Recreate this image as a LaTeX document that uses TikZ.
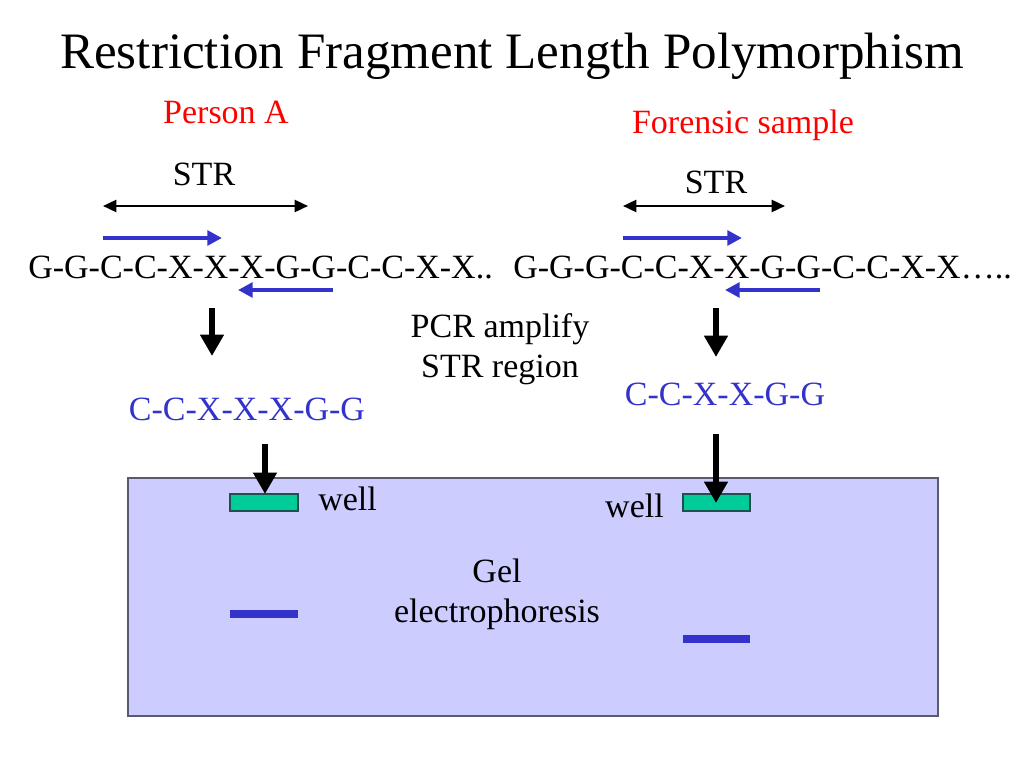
\documentclass[tikz,border=0pt]{standalone}
\usepackage{fontspec}
\setmainfont{Liberation Serif}
\usetikzlibrary{arrows.meta}

\definecolor{dnablue}{RGB}{51,51,204}
\definecolor{gelfill}{RGB}{204,204,255}
\definecolor{wellfill}{RGB}{0,204,153}

\tikzset{
  txt/.style={inner sep=0pt, anchor=base, font=\fontsize{25.5}{29.3}\selectfont},
  spanarrow/.style={line width=1.8, {Triangle[width=9,length=10]}-{Triangle[width=9,length=10]}},
  primer/.style={draw=dnablue, line width=3, -{Triangle[width=11,length=11]}},
  downarrow/.style={line width=4.5, -{Triangle[width=17,length=16]}},
  wellbox/.style={draw={rgb,255:red,30;green,80;blue,80}, fill=wellfill, line width=0.8},
}

\begin{document}
\begin{tikzpicture}[x=0.75pt,y=0.75pt,yscale=-1,xscale=1]
  \useasboundingbox (0,0) rectangle (1024,768);
  \fill[white] (0,0) rectangle (1024,768);

  %Shape: Rectangle (gel)
  \draw [draw={rgb,255:red,90;green,90;blue,110}, fill=gelfill, line width=1] (128,478) rectangle (938,716);
  %Shape: Wells
  \draw [wellbox] (230,494) rectangle (298,511);
  \draw [wellbox] (683,494) rectangle (750,511);
  %Shape: Bands
  \fill [dnablue] (230,610) rectangle (298,618);
  \fill [dnablue] (683,635) rectangle (750,643);

  % Text Node
  \draw (512,68) node (title) [txt, font=\fontsize{38.3}{44}\selectfont] {Restriction Fragment Length Polymorphism};
  % Text Node
  \draw (226,123) node (persA) [txt, text=red] {Person A};
  % Text Node
  \draw (743,133) node (foren) [txt, text=red] {Forensic sample};
  % Text Node
  \draw (204,185) node (strA) [txt] {STR};
  % Text Node
  \draw (716,193) node (strB) [txt] {STR};
  % Text Node
  \draw (28,278) node (seqA) [txt, anchor=base west] {G-G-C-C-X-X-X-G-G-C-C-X-X..};
  % Text Node
  \draw (513,278) node (seqB) [txt, anchor=base west] {G-G-G-C-C-X-X-G-G-C-C-X-X\ldots..};
  % Text Node (anchored on its last line)
  \draw (500,377) node (pcr) [txt, align=center] {PCR amplify\\STR region};
  % Text Node
  \draw (247,420) node (fragA) [txt, text=dnablue] {C-C-X-X-X-G-G};
  % Text Node
  \draw (725,405) node (fragB) [txt, text=dnablue] {C-C-X-X-G-G};
  % Text Node
  \draw (318,510) node (wellA) [txt, anchor=base west] {well};
  % Text Node
  \draw (664,517) node (wellB) [txt, anchor=base east] {well};
  % Text Node (anchored on its last line)
  \draw (497,622) node (gel) [txt, align=center] {Gel\\electrophoresis};

  %Coordinates for arrow ends
  \coordinate (spanA1) at (103,206);  \coordinate (spanA2) at (308,206);
  \coordinate (spanB1) at (623,206);  \coordinate (spanB2) at (785,206);
  \coordinate (fwdA1) at (103,238);   \coordinate (fwdA2) at (222,238);
  \coordinate (revA1) at (333,290);   \coordinate (revA2) at (238,290);
  \coordinate (fwdB1) at (623,238);   \coordinate (fwdB2) at (742,238);
  \coordinate (revB1) at (820,290);   \coordinate (revB2) at (725,290);
  \coordinate (ampA1) at (212,308);   \coordinate (ampA2) at (212,356);
  \coordinate (ampB1) at (716,308);   \coordinate (ampB2) at (716,357);
  \coordinate (loadA1) at (265,444);  \coordinate (loadA2) at (265,494);
  \coordinate (loadB1) at (716,434);  \coordinate (loadB2) at (716,503);

  %Straight Lines (STR span)
  \draw [spanarrow] (spanA1) -- (spanA2);
  \draw [spanarrow] (spanB1) -- (spanB2);
  %Straight Lines (primers)
  \draw [primer] (fwdA1) -- (fwdA2);
  \draw [primer] (revA1) -- (revA2);
  \draw [primer] (fwdB1) -- (fwdB2);
  \draw [primer] (revB1) -- (revB2);
  %Straight Lines (down arrows)
  \draw [downarrow] (ampA1) -- (ampA2);
  \draw [downarrow] (ampB1) -- (ampB2);
  \draw [downarrow] (loadA1) -- (loadA2);
  \draw [downarrow] (loadB1) -- (loadB2);

\end{tikzpicture}
\end{document}
